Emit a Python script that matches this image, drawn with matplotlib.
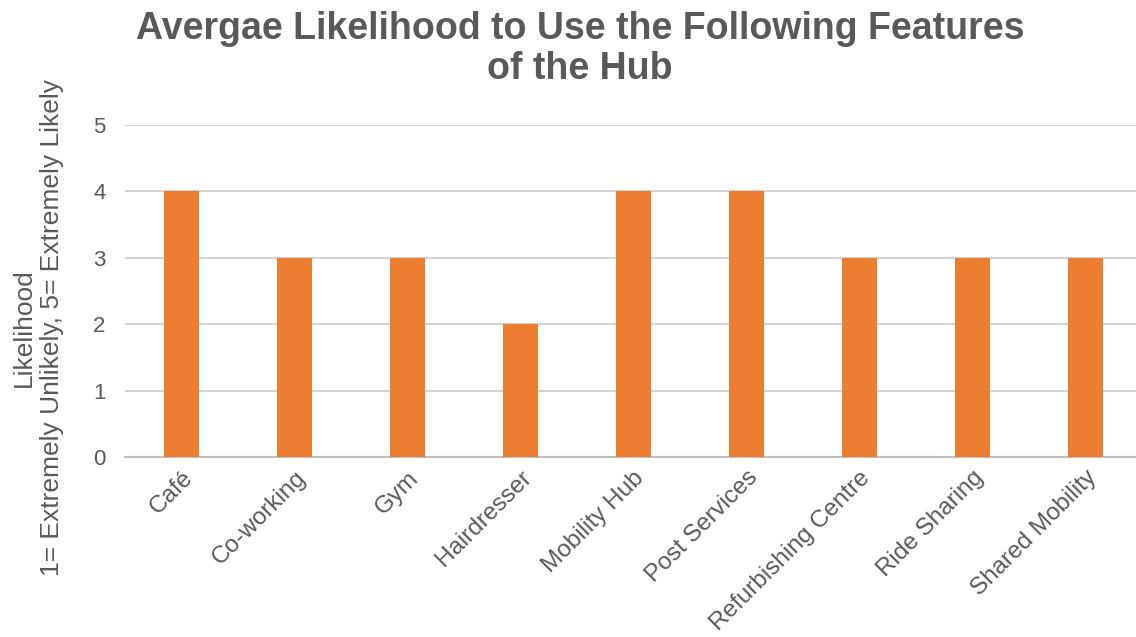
import matplotlib
matplotlib.use("Agg")
import matplotlib.pyplot as plt

categories = ["Café", "Co-working", "Gym", "Hairdresser", "Mobility Hub",
              "Post Services", "Refurbishing Centre", "Ride Sharing", "Shared Mobility"]
values = [4, 3, 3, 2, 4, 4, 3, 3, 3]
y_ticks = [0, 1, 2, 3, 4, 5]

plt.rcParams["font.family"] = ["Liberation Sans", "DejaVu Sans"]
text_color = "#595959"
bar_color = "#ED7D31"

W, H = 1136, 637
fig = plt.figure(figsize=(W / 100, H / 100), dpi=100)
ax = fig.add_axes([125 / W, (H - 457) / H, (1136 - 125) / W, (457 - 125) / H])

x = list(range(len(categories)))
ax.bar(x, values, width=0.31, color=bar_color, zorder=3)

ax.set_ylim(0, 5)
ax.set_xlim(-0.5, len(categories) - 0.55)
ax.set_yticks(y_ticks)
ax.set_yticklabels([str(t) for t in y_ticks], fontsize=16, color=text_color)
ax.yaxis.grid(True, color="#d4d4d4", linewidth=1.5, zorder=0)
ax.tick_params(axis="y", length=0, pad=14)
ax.tick_params(axis="x", length=0, pad=7)

ax.set_xticks(x)
ax.set_xticklabels(categories, rotation=45, ha="right", rotation_mode="anchor",
                   fontsize=17.5, color=text_color)

for side in ["top", "right", "left"]:
    ax.spines[side].set_visible(False)
ax.spines["bottom"].set_color("#bfbfbf")
ax.spines["bottom"].set_linewidth(1.5)

fig.text(38 / W, 1 - 328 / H, "Likelihood\n1= Extremely Unlikely, 5= Extremely Likely",
         rotation=90, ha="center", va="center", fontsize=19, color=text_color,
         linespacing=1.2)

fig.text(580 / W, 1 - 49 / H, "Avergae Likelihood to Use the Following Features\nof the Hub",
         ha="center", va="center", fontsize=27, fontweight="bold", color=text_color,
         linespacing=1.12)

fig.savefig("out.png", dpi=100)
